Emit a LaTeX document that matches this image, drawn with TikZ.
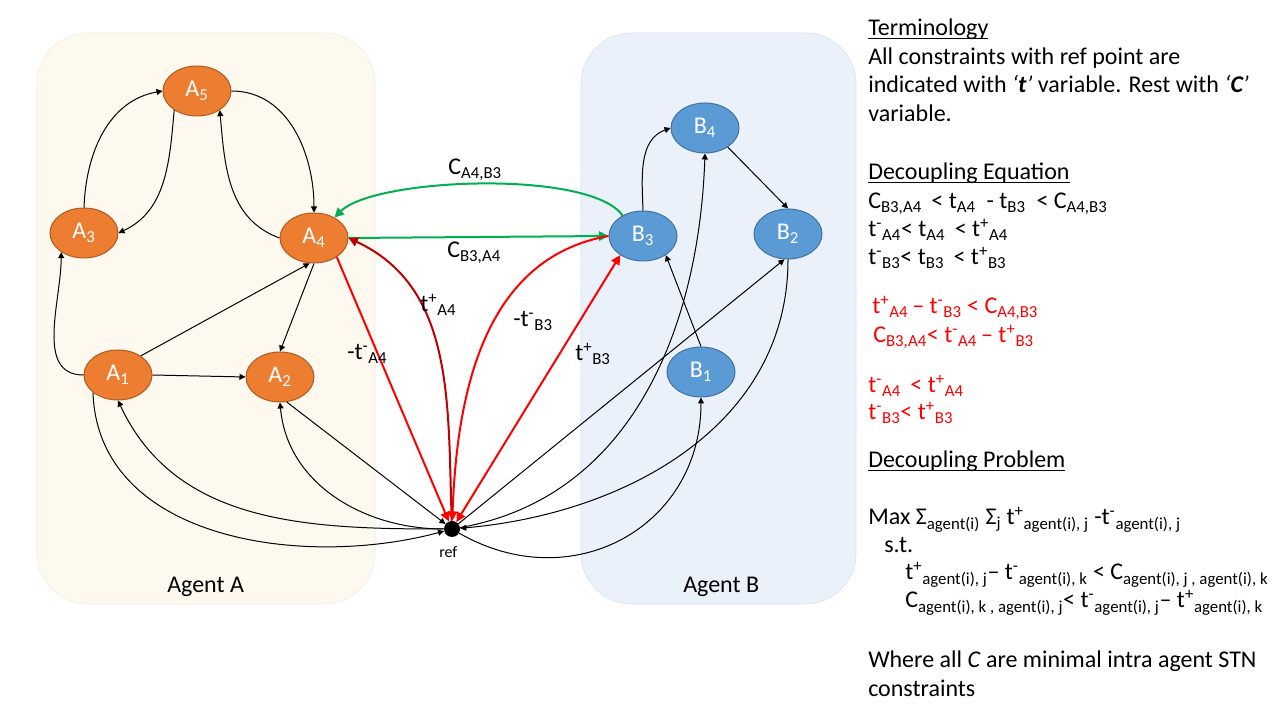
\documentclass[tikz,border=0pt]{standalone}
\usepackage{fontspec}
\setmainfont{Carlito}
\usepackage{tikz}
\usetikzlibrary{shapes.geometric}
\usetikzlibrary{arrows.meta}
\definecolor{evorange}{HTML}{ED7D31}
\definecolor{evorangeline}{HTML}{AE5A21}
\definecolor{evblue}{HTML}{5B9BD5}
\definecolor{evblueline}{HTML}{41719C}
\definecolor{agentAfill}{HTML}{FEF9EF}
\definecolor{agentAline}{HTML}{EFEBE2}
\definecolor{agentBfill}{HTML}{EAF1FA}
\definecolor{agentBline}{HTML}{D3E0EE}
\definecolor{linkgreen}{HTML}{00B050}
\definecolor{darkred}{HTML}{C00000}
\tikzset{event/.style={ellipse, draw, line width=0.75pt, inner sep=0, minimum width=51pt, minimum height=37.5pt, text=white, font=\fontsize{18}{22}\selectfont}}
\tikzset{eventA/.style={event, fill=evorange, draw=evorangeline}}
\tikzset{eventB/.style={event, fill=evblue, draw=evblueline}}
\tikzset{lbl/.style={anchor=base west, inner sep=0, font=\fontsize{18}{22}\selectfont}}
\tikzset{every edge/.style={draw, line width=0.75pt, -{Triangle[length=4.5pt, width=4.5pt]}}}
\tikzset{redarc/.style={red, line width=1.5pt, -{Triangle[length=7pt, width=7pt]}}}
\tikzset{darkarc/.style={redarc, darkred}}
\tikzset{greenarc/.style={redarc, linkgreen}}

\begin{document}
\begin{tikzpicture}[x=0.75pt, y=0.75pt]
    \useasboundingbox (0,0) rectangle (1280,720);
    \path[draw=agentAline, fill=agentAfill, rounded corners=38pt] (37,116) rectangle (375,687);
    \path[draw=agentBline, fill=agentBfill, rounded corners=38pt] (581,116) rectangle (856,687);

    \node[eventA] at (197,629) (A5) {A\textsubscript{5}};
    \node[eventA] at (84,487) (A3) {A\textsubscript{3}};
    \node[eventA] at (314,482) (A4) {A\textsubscript{4}};
    \node[eventA] at (118,345) (A1) {A\textsubscript{1}};
    \node[eventA] at (280,343) (A2) {A\textsubscript{2}};

    \node[eventB] at (705,592) (B4) {B\textsubscript{4}};
    \node[eventB] at (643,484) (B3) {B\textsubscript{3}};
    \node[eventB] at (788,486) (B2) {B\textsubscript{2}};
    \node[eventB] at (701,348) (B1) {B\textsubscript{1}};

    \node[circle, fill=black, inner sep=0, minimum size=12pt] at (452,191) (ref) {};

    \draw (A3.north) edge[out=88, in=190] (A5.west);
    \draw (A5.220) edge[out=-95, in=25] (A3.east);
    \draw (A5.east) edge[out=0, in=90] (A4.north);
    \draw (A4.west) edge[out=160, in=-85] (A5.-40);
    \draw (A1.west) edge[out=180, in=-90] (A3.220);
    \draw (A1.40) edge (A4.260);
    \draw (A4.south) edge (A2.north);
    \draw (A1.east) edge (A2.west);

    \draw (ref) edge[out=180, in=-65] (A1.south);
    \draw (ref) edge[out=180, in=-85] (A2.south);
    \draw (A2.-75) edge (ref);
    \draw (A1.215) edge[out=-88, in=195] (ref);

    \draw (ref) edge[out=-30, in=-90, looseness=1.2] (B1.south);
    \draw (B2.south) edge[out=-90, in=5] (ref);
    \draw (ref) edge (B2.262);
    \draw (ref) edge[out=10, in=-92] (B4.south);
    \draw (B1.north) edge (B3.-40);
    \draw (B3.north) edge[out=92, in=200] (B4.west);
    \draw (B4.-40) edge (B2.north);

    \draw (B3.135) edge[greenarc, out=125, in=45, looseness=0.5] (A4.45);
    \draw (A4.east) edge[greenarc] (B3.west);

    \draw (A4.-40) edge[redarc] (ref);
    \draw (ref) edge[darkarc, out=92, in=-25] (A4.east);
    \draw (B3.west) edge[redarc, out=190, in=88] (ref);
    \draw (ref) edge[redarc, {Triangle[length=7pt, width=7pt]}-{Triangle[length=7pt, width=7pt]}] (B3.220);

    \node[lbl] at (448,545) (cAB) {C\textsubscript{A4,B3}};
    \node[lbl] at (447,462) (cBA) {C\textsubscript{B3,A4}};
    \node[lbl] at (420,408) (tplusA) {t\textsuperscript{+}\textsubscript{A4}};
    \node[lbl] at (347,360) (tminA) {-t\textsuperscript{-}\textsubscript{A4}};
    \node[lbl] at (513,393) (tminB) {-t\textsuperscript{-}\textsubscript{B3}};
    \node[lbl] at (575,359) (tplusB) {t\textsuperscript{+}\textsubscript{B3}};
    \node[lbl, font=\fontsize{12}{14}\selectfont] at (439,162) (reftxt) {ref};
    \node[lbl] at (167,127) (agentA) {Agent A};
    \node[lbl] at (683,127) (agentB) {Agent B};

    % terminology and equations
    \node[lbl] at (868,684) (term) {\underbar{Terminology}};
    \node[lbl] at (868,655) (term1) {All constraints with ref point are};
    \node[lbl] at (868,627) (term2) {indicated with \textit{‘\textbf{t}’} variable. Rest with \textit{‘\textbf{C}’}};
    \node[lbl] at (868,598) (term3) {variable.};
    \node[lbl] at (868,540) (eqn) {\underbar{Decoupling Equation}};
    \node[lbl] at (868,511) (eqn1) {C\textsubscript{B3,A4} \,< t\textsubscript{A4} \ - t\textsubscript{B3} \ < C\textsubscript{A4,B3}};
    \node[lbl] at (868,483) (eqn2) {t\textsuperscript{-}\textsubscript{A4}< t\textsubscript{A4} \,< t\textsuperscript{+}\textsubscript{A4}};
    \node[lbl] at (868,455) (eqn3) {t\textsuperscript{-}\textsubscript{B3}< t\textsubscript{B3} \,< t\textsuperscript{+}\textsubscript{B3}};
    \node[lbl, red] at (872,406) (red1) {t\textsuperscript{+}\textsubscript{A4}\,– t\textsuperscript{-}\textsubscript{B3} < C\textsubscript{A4,B3}};
    \node[lbl, red] at (873,377) (red2) {C\textsubscript{B3,A4}< t\textsuperscript{-}\textsubscript{A4}\,– t\textsuperscript{+}\textsubscript{B3}};
    \node[lbl, red] at (868,327) (red3) {t\textsuperscript{-}\textsubscript{A4} \,< t\textsuperscript{+}\textsubscript{A4}};
    \node[lbl, red] at (868,300) (red4) {t\textsuperscript{-}\textsubscript{B3}< t\textsuperscript{+}\textsubscript{B3}};
    \node[lbl] at (868,252) (prob) {\underbar{Decoupling Problem}};
    \node[lbl] at (868,195) (prob1) {Max Σ\textsubscript{agent(i)} Σ\textsubscript{j} t\textsuperscript{+}\textsubscript{agent(i), j} -t\textsuperscript{-}\textsubscript{agent(i), j}};
    \node[lbl] at (884,167) (prob2) {s.t.};
    \node[lbl] at (905,140) (prob3) {t\textsuperscript{+}\textsubscript{agent(i), j}– t\textsuperscript{-}\textsubscript{agent(i), k} < C\textsubscript{agent(i), j , agent(i), k}};
    \node[lbl] at (905,112) (prob4) {C\textsubscript{agent(i), k , agent(i), j}< t\textsuperscript{-}\textsubscript{agent(i), j}– t\textsuperscript{+}\textsubscript{agent(i), k}};
    \node[lbl] at (868,52) (where1) {Where all \textit{C} are minimal intra agent STN};
    \node[lbl] at (868,23) (where2) {constraints};
\end{tikzpicture}
\end{document}
